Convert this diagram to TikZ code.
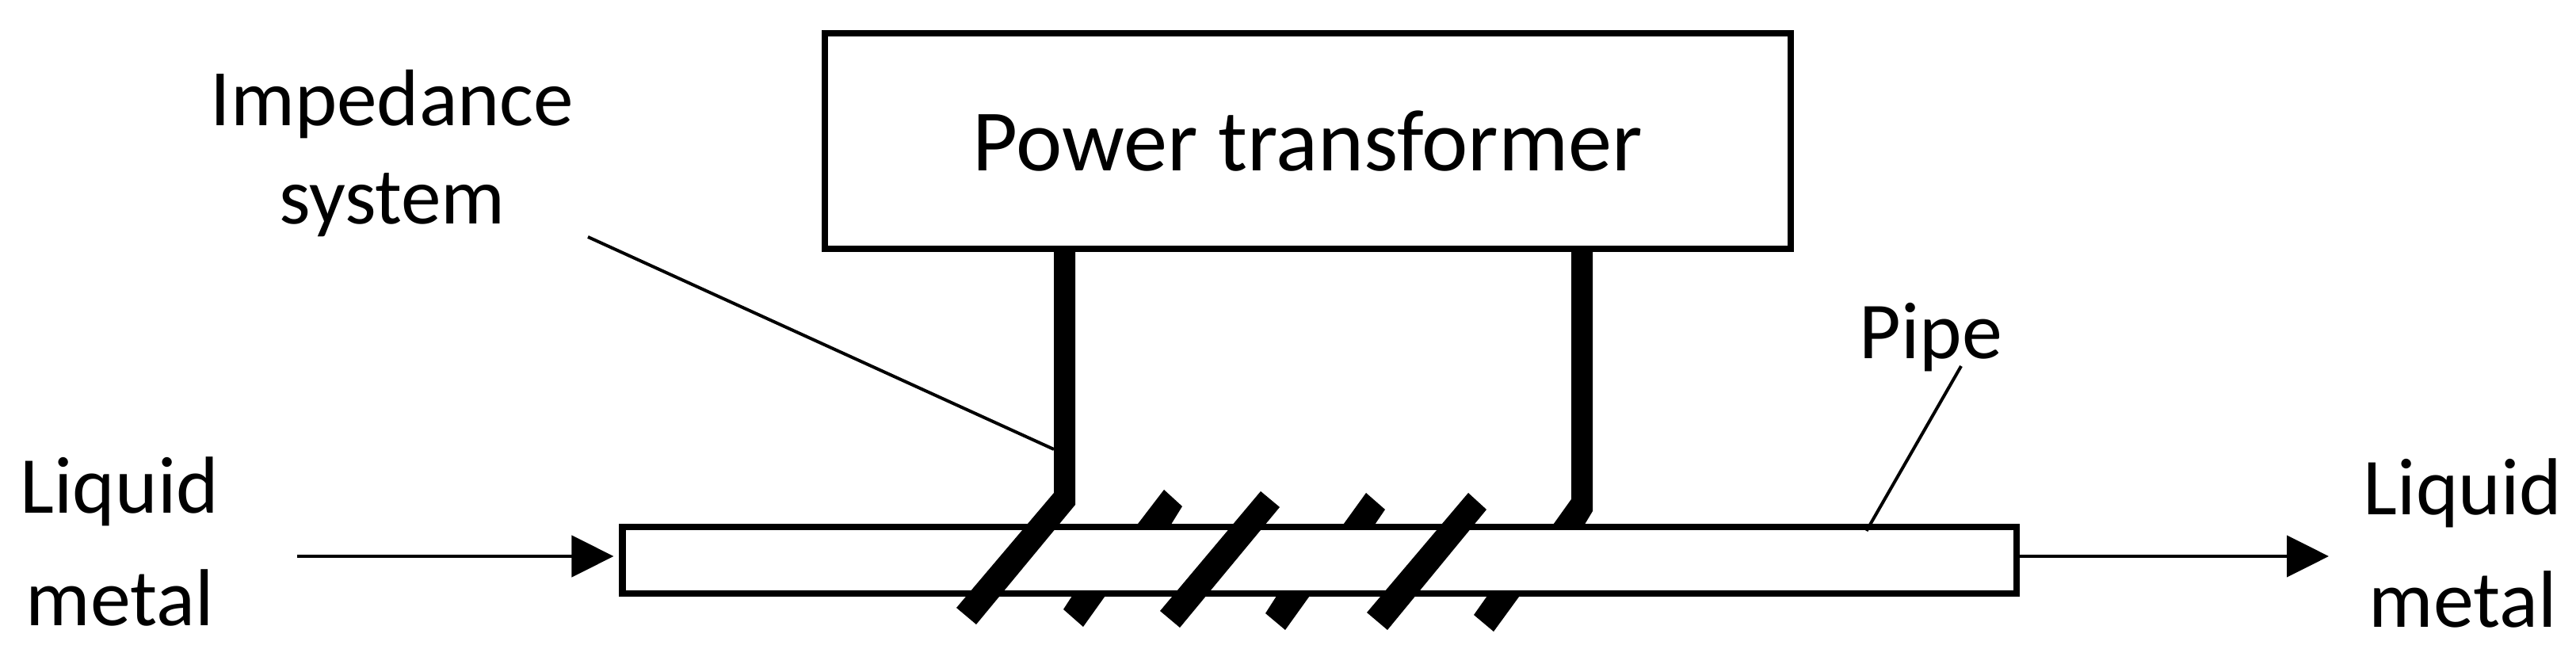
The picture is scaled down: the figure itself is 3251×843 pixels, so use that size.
\documentclass[tikz,border=0pt]{standalone}
\usepackage{fontspec}
\setmainfont{Carlito}
\usetikzlibrary{arrows.meta}
\tikzset{
  frame/.style={draw=black,line width=0.08cm,fill=white,inner sep=0pt,outer sep=0pt,rectangle},
  label1/.style={inner sep=0pt,outer sep=0pt,align=center,anchor=base,font=\fontsize{28.8pt}{35.3pt}\selectfont},
  label2/.style={inner sep=0pt,outer sep=0pt,align=center,anchor=base,font=\fontsize{29pt}{40.2pt}\selectfont},
  leader/.style={draw=black,line width=0.04cm},
  flow/.style={draw=black,line width=0.045cm,-{Triangle[length=0.53cm,width=0.52cm]}},
  coil/.style={fill=black,draw=none}
}
\begin{document}
\begin{tikzpicture}[x=0.01cm,y=-0.01cm]
\useasboundingbox (0,0) rectangle (3251,843);
% transformer and pipe
\node[frame,minimum width=12.19cm,minimum height=2.72cm,font=\fontsize{31.4pt}{36pt}\selectfont] (box) at (1650.5,178) {Power transformer};
\node[frame,minimum width=17.58cm,minimum height=0.83cm] (pipe) at (1665,707) {};
% coil
\fill[coil] (1330,314) -- (1357,314) -- (1357,637) -- (1232,788) -- (1207,767) -- (1330,622) -- cycle;
\fill[coil] (1983,314) -- (2010,314) -- (2010,645) -- (1998,665) -- (1958,665) -- (1983,630) -- cycle;
\fill[coil] (1591,620) -- (1615,640) -- (1489,792) -- (1464,771) -- cycle;
\fill[coil] (1853,622) -- (1876,643) -- (1751,795) -- (1725,773) -- cycle;
\fill[coil] (1469,618) -- (1492,639) -- (1476,665) -- (1433,665) -- cycle;
\fill[coil] (1724,622) -- (1748,643) -- (1733,665) -- (1693,665) -- cycle;
\fill[coil] (1355,749) -- (1342,769) -- (1367,791) -- (1397,749) -- cycle;
\fill[coil] (1613,749) -- (1597,774) -- (1622,795) -- (1655,749) -- cycle;
\fill[coil] (1879,749) -- (1860,776) -- (1885,797) -- (1920,749) -- cycle;
% labels
\node[label1] (imp) at (495,283) {Impedance\\system};
\node[label2] (liqL) at (151,789) {Liquid\\metal};
\node[label2] (liqR) at (3108,791) {Liquid\\metal};
\node[label2] (pipelabel) at (2437,453) {Pipe};
% connectors
\coordinate (impstart) at (742,299);
\coordinate (impend) at (1330,567);
\coordinate (pipestart) at (2475,462);
\coordinate (pipeend) at (2355.5,670);
\coordinate (inflow) at (375,702);
\coordinate (outflow) at (2939,702);
\draw[leader] (impstart) -- (impend);
\draw[leader] (pipestart) -- (pipeend);
\draw[flow,shorten >=0.11cm] (inflow) -- (inflow -| pipe.west);
\draw[flow] (outflow -| pipe.east) -- (outflow);
\end{tikzpicture}
\end{document}
